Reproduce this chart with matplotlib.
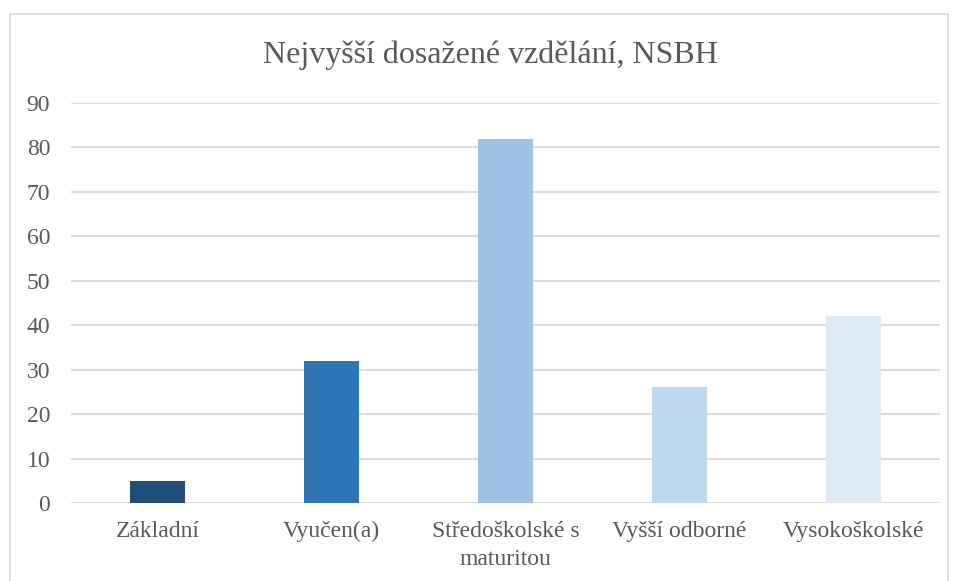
import matplotlib
matplotlib.use("Agg")
import matplotlib.pyplot as plt
from matplotlib.patches import Rectangle

categories = ["Základní", "Vyučen(a)", "Středoškolské s\nmaturitou", "Vyšší odborné", "Vysokoškolské"]
values = [5, 32, 82, 26, 42]
colors = ["#1F4E79", "#2E75B6", "#9DC3E6", "#BDD7EE", "#DEEBF7"]
yticks = [0, 10, 20, 30, 40, 50, 60, 70, 80, 90]

plt.rcParams['font.family'] = ['Liberation Serif', 'DejaVu Serif']
W, H = 957, 581
fig = plt.figure(figsize=(W/100, H/100), dpi=100)
ax = fig.add_axes([71/W, 1-503/H, 869/W, 400/H])

x = list(range(len(categories)))
ax.bar(x, values, width=0.316, color=colors, zorder=3)
ax.set_xlim(-0.5, len(categories)-0.5)
ax.set_ylim(0, 90)
ax.set_yticks(yticks)
ax.set_xticks(x)
ax.set_xticklabels(categories, fontsize=17, color="#595959", linespacing=1.45)
ax.tick_params(axis='y', labelsize=17, labelcolor="#595959", length=0, pad=15)
ax.tick_params(axis='x', length=0, pad=13)
ax.grid(axis='y', color="#D9D9D9", linewidth=1.3, zorder=0)
for s in ax.spines.values():
    s.set_visible(False)

fig.text(490/W, 1-55/H, "Nejvyšší dosažené vzdělání, NSBH", ha='center', va='center',
         fontsize=23, color="#595959")

fig.patches.append(Rectangle((9.5/W, -0.1), (948-9.5)/W, 1.1-13.5/H, transform=fig.transFigure,
                             fill=False, edgecolor="#D9D9D9", linewidth=1.2))

fig.savefig("out.png", dpi=100)
